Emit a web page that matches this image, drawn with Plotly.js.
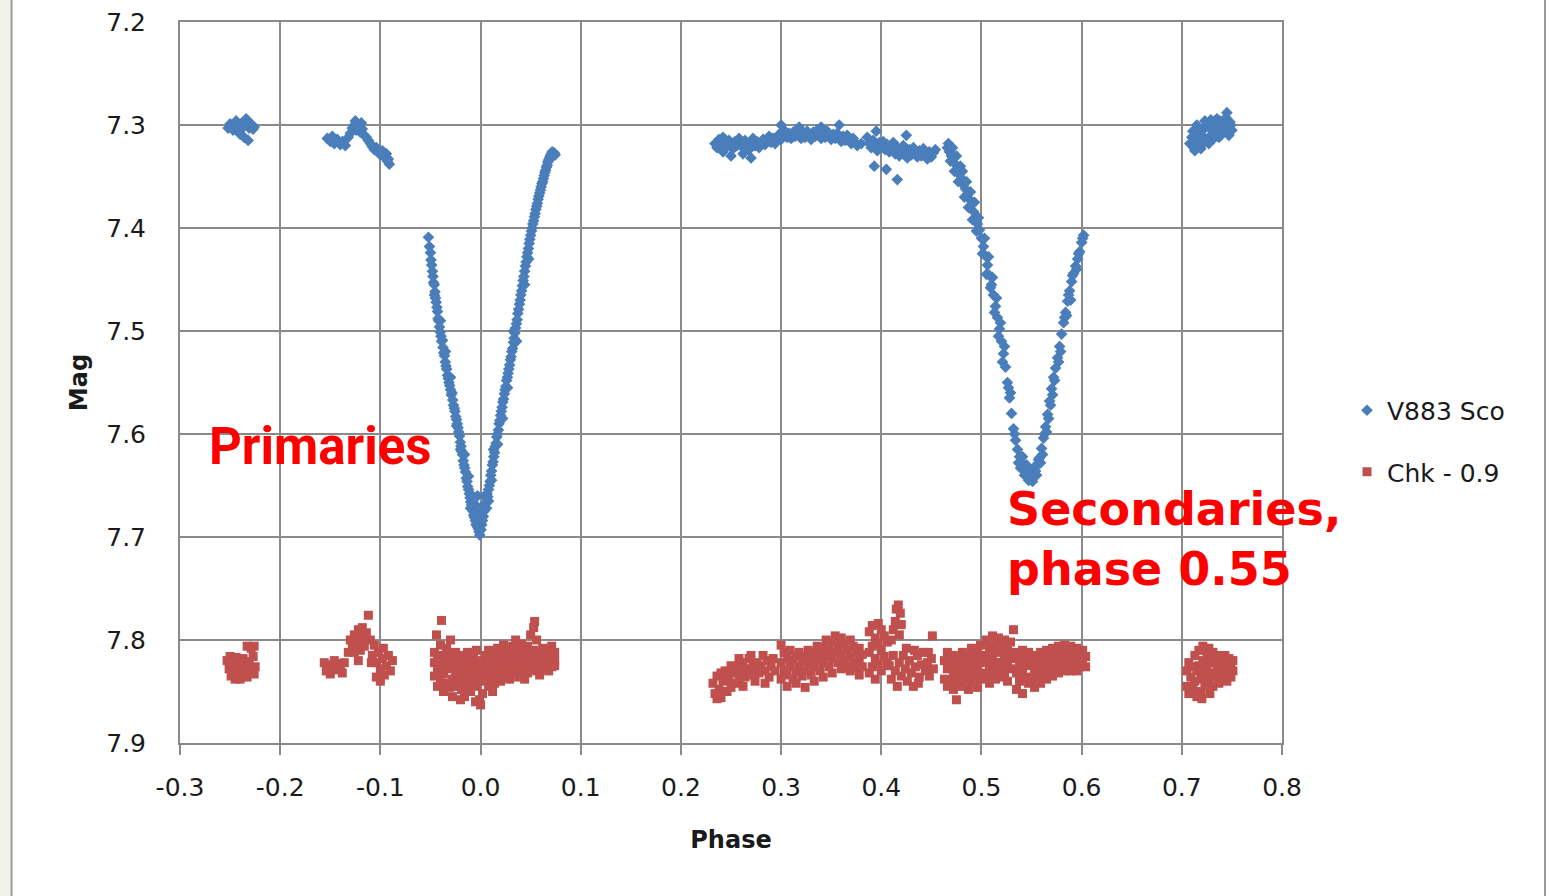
<!DOCTYPE html>
<html>
<head>
<meta charset="utf-8">
<script src="https://cdn.plot.ly/plotly-3.0.1.min.js"></script>
<style>
html,body{margin:0;padding:0;background:#fff;}
#chart{width:1549px;height:896px;}
</style>
</head>
<body>
<div id="chart"></div>
<script>
// ---- V883 Sco (phase, mag) ----
const v883PreA = [[-0.252,7.303],[-0.250,7.299],[-0.249,7.301],[-0.247,7.305],[-0.245,7.300],[-0.243,7.304],[-0.241,7.306],[-0.239,7.299],[-0.237,7.302],[-0.235,7.297],[-0.233,7.300],[-0.231,7.303],[-0.229,7.299],[-0.227,7.304],[-0.240,7.309],[-0.236,7.312],[-0.232,7.315],[-0.226,7.302],[-0.244,7.296],[-0.234,7.294]];
const v883PreB = [[-0.153,7.313],[-0.150,7.316],[-0.148,7.311],[-0.146,7.318],[-0.143,7.314],[-0.140,7.319],[-0.138,7.316],[-0.135,7.320],[-0.132,7.312],[-0.130,7.308],[-0.128,7.303],[-0.126,7.300],[-0.124,7.305],[-0.122,7.302],[-0.120,7.307],[-0.118,7.304],[-0.116,7.310],[-0.114,7.312],[-0.112,7.315],[-0.110,7.318],[-0.108,7.321],[-0.106,7.324],[-0.104,7.322],[-0.102,7.326],[-0.100,7.329],[-0.098,7.325],[-0.096,7.331],[-0.094,7.328],[-0.092,7.333],[-0.091,7.338],[-0.093,7.335],[-0.097,7.330],[-0.101,7.327],[-0.125,7.296],[-0.119,7.298]];
const v883Primary = [[-0.0520,7.409],[-0.0510,7.418],[-0.0500,7.424],[-0.0495,7.431],[-0.0488,7.436],[-0.0480,7.442],[-0.0475,7.447],[-0.0470,7.453],[-0.0462,7.455],[-0.0455,7.462],[-0.0450,7.468],[-0.0443,7.472],[-0.0436,7.477],[-0.0430,7.481],[-0.0424,7.488],[-0.0418,7.490],[-0.0410,7.496],[-0.0402,7.501],[-0.0395,7.505],[-0.0388,7.510],[-0.0380,7.509],[-0.0375,7.516],[-0.0368,7.521],[-0.0360,7.524],[-0.0352,7.530],[-0.0345,7.534],[-0.0338,7.537],[-0.0330,7.543],[-0.0322,7.546],[-0.0315,7.550],[-0.0308,7.553],[-0.0300,7.557],[-0.0292,7.562],[-0.0285,7.560],[-0.0278,7.567],[-0.0270,7.572],[-0.0262,7.575],[-0.0255,7.578],[-0.0248,7.583],[-0.0240,7.586],[-0.0232,7.590],[-0.0225,7.594],[-0.0218,7.598],[-0.0210,7.602],[-0.0202,7.608],[-0.0195,7.612],[-0.0188,7.617],[-0.0180,7.620],[-0.0172,7.626],[-0.0165,7.630],[-0.0158,7.633],[-0.0150,7.637],[-0.0142,7.643],[-0.0135,7.646],[-0.0128,7.651],[-0.0120,7.654],[-0.0112,7.658],[-0.0105,7.662],[-0.0098,7.666],[-0.0090,7.669],[-0.0082,7.672],[-0.0075,7.675],[-0.0068,7.679],[-0.0060,7.681],[-0.0052,7.684],[-0.0045,7.688],[-0.0038,7.686],[-0.0030,7.690],[-0.0022,7.692],[-0.0015,7.695],[-0.0008,7.698],
[-0.010,7.672],[-0.008,7.660],[-0.006,7.668],[-0.004,7.675],[-0.012,7.641],[-0.016,7.620],[-0.020,7.615],[-0.024,7.592],[-0.003,7.660],[-0.001,7.680],[-0.035,7.520],[-0.030,7.545],[-0.040,7.490],[-0.046,7.465],
[0.0005,7.693],[0.0012,7.688],[0.0020,7.684],[0.0028,7.680],[0.0035,7.675],[0.0042,7.671],[0.0050,7.668],[0.0058,7.662],[0.0065,7.658],[0.0072,7.661],[0.0080,7.654],[0.0088,7.650],[0.0095,7.646],[0.0102,7.640],[0.0110,7.636],[0.0118,7.630],[0.0125,7.627],[0.0132,7.622],[0.0140,7.618],[0.0148,7.612],[0.0155,7.609],[0.0162,7.603],[0.0170,7.600],[0.0178,7.596],[0.0185,7.590],[0.0192,7.587],[0.0200,7.582],[0.0208,7.578],[0.0215,7.574],[0.0222,7.569],[0.0230,7.566],[0.0238,7.561],[0.0245,7.557],[0.0252,7.554],[0.0260,7.548],[0.0268,7.545],[0.0275,7.541],[0.0282,7.537],[0.0290,7.533],[0.0298,7.528],[0.0305,7.525],[0.0312,7.520],[0.0320,7.517],[0.0328,7.511],[0.0335,7.507],[0.0342,7.502],[0.0350,7.497],[0.0358,7.493],[0.0365,7.489],[0.0372,7.483],[0.0380,7.479],[0.0388,7.474],[0.0395,7.470],[0.0402,7.465],[0.0410,7.461],[0.0418,7.456],[0.0425,7.451],[0.0432,7.447],[0.0440,7.442],[0.0448,7.437],[0.0455,7.433],[0.0462,7.428],[0.0470,7.424],[0.0478,7.420],[0.0485,7.415],[0.0492,7.411],[0.0500,7.407],[0.0508,7.403],[0.0515,7.400],[0.0522,7.396],[0.0530,7.393],[0.0538,7.389],[0.0545,7.386],[0.0552,7.382],[0.0560,7.379],[0.0568,7.376],[0.0575,7.372],[0.0582,7.369],[0.0590,7.366],[0.0598,7.363],[0.0605,7.360],[0.0612,7.357],[0.0620,7.355],[0.0628,7.352],[0.0635,7.349],[0.0642,7.346],[0.0650,7.344],[0.0658,7.341],[0.0665,7.339],[0.0672,7.336],[0.0680,7.334],[0.0688,7.332],[0.0695,7.330],[0.0705,7.328],[0.0715,7.326],[0.0725,7.330],[0.0735,7.327],[0.0745,7.329],
[0.002,7.670],[0.004,7.660],[0.006,7.672],[0.008,7.665],[0.011,7.645],[0.013,7.615],[0.017,7.610],[0.022,7.585],[0.027,7.555],[0.033,7.500],[0.036,7.510],[0.044,7.455],[0.048,7.430]];
const v883Out = [[0.234,7.318],[0.236,7.322],[0.238,7.314],[0.240,7.320],[0.242,7.326],[0.244,7.317],[0.246,7.321],[0.248,7.315],[0.250,7.319],[0.252,7.323],[0.254,7.316],[0.256,7.320],[0.258,7.313],[0.260,7.318],[0.262,7.322],[0.264,7.315],[0.266,7.319],[0.268,7.324],[0.270,7.317],[0.272,7.313],[0.274,7.320],[0.276,7.316],[0.278,7.322],[0.280,7.318],[0.282,7.314],[0.284,7.319],[0.286,7.315],[0.288,7.311],[0.290,7.317],[0.292,7.313],[0.294,7.318],[0.296,7.312],[0.298,7.309],[0.300,7.314],[0.302,7.310],[0.304,7.306],[0.306,7.312],[0.308,7.308],[0.310,7.313],[0.312,7.307],[0.314,7.311],[0.316,7.305],[0.318,7.309],[0.320,7.313],[0.322,7.308],[0.324,7.312],[0.326,7.306],[0.328,7.310],[0.330,7.314],[0.332,7.307],[0.334,7.311],[0.336,7.305],[0.338,7.309],[0.340,7.313],[0.342,7.308],[0.344,7.312],[0.346,7.306],[0.348,7.310],[0.350,7.314],[0.352,7.309],[0.354,7.313],[0.356,7.308],[0.358,7.312],[0.360,7.316],[0.362,7.311],[0.364,7.315],[0.366,7.310],[0.368,7.314],[0.370,7.318],[0.372,7.313],[0.374,7.317],[0.386,7.312],[0.388,7.318],[0.390,7.322],[0.392,7.315],[0.394,7.320],[0.396,7.325],[0.398,7.317],[0.400,7.322],[0.402,7.316],[0.404,7.324],[0.406,7.319],[0.408,7.326],[0.410,7.321],[0.412,7.317],[0.414,7.328],[0.416,7.322],[0.418,7.330],[0.420,7.325],[0.422,7.320],[0.424,7.327],[0.426,7.332],[0.428,7.324],[0.430,7.329],[0.432,7.322],[0.434,7.327],[0.436,7.331],[0.438,7.325],[0.440,7.330],[0.442,7.323],[0.444,7.328],[0.446,7.333],[0.448,7.326],[0.450,7.331],[0.452,7.327],[0.454,7.324],
[0.416,7.353],[0.405,7.343],[0.393,7.340],[0.425,7.310],[0.395,7.306],[0.300,7.300],[0.318,7.302],[0.340,7.302],[0.250,7.330],[0.262,7.328],[0.270,7.332],[0.242,7.312],[0.358,7.300],[0.376,7.320],[0.380,7.318]];
const v883Secondary = [[0.466,7.322],[0.468,7.326],[0.470,7.330],[0.472,7.333],[0.474,7.338],[0.476,7.343],[0.478,7.348],[0.480,7.352],[0.482,7.358],[0.484,7.362],[0.486,7.367],[0.488,7.372],[0.490,7.378],[0.492,7.384],[0.494,7.390],[0.496,7.396],[0.498,7.402],[0.500,7.410],[0.502,7.418],[0.504,7.427],[0.506,7.436],[0.508,7.446],[0.510,7.455],[0.512,7.465],[0.514,7.476],[0.516,7.487],[0.518,7.498],[0.520,7.510],[0.522,7.522],[0.524,7.535],[0.526,7.550],[0.528,7.565],[0.530,7.580],[0.532,7.595],[0.534,7.606],[0.536,7.615],[0.538,7.622],[0.540,7.628],[0.542,7.632],[0.544,7.636],[0.546,7.639],[0.548,7.641],[0.550,7.642],
[0.552,7.640],[0.554,7.636],[0.556,7.630],[0.558,7.623],[0.560,7.614],[0.562,7.604],[0.564,7.593],[0.566,7.581],[0.568,7.568],[0.570,7.556],[0.572,7.545],[0.574,7.536],[0.576,7.526],[0.578,7.515],[0.580,7.503],[0.582,7.492],[0.584,7.482],[0.586,7.471],[0.588,7.461],[0.590,7.452],[0.592,7.444],[0.594,7.437],[0.596,7.430],[0.598,7.423],[0.600,7.414],[0.602,7.407],
[0.467,7.318],[0.469,7.335],[0.471,7.322],[0.473,7.345],[0.475,7.330],[0.477,7.355],[0.479,7.340],[0.481,7.345],[0.483,7.370],[0.485,7.355],[0.487,7.380],[0.489,7.365],[0.491,7.392],[0.493,7.375],[0.495,7.403],[0.497,7.390],[0.501,7.425],[0.503,7.410],[0.505,7.445],[0.507,7.428],[0.509,7.458],[0.511,7.448],[0.513,7.482],[0.515,7.468],[0.517,7.505],[0.519,7.492],[0.521,7.530],[0.523,7.515],[0.527,7.555],[0.529,7.560],[0.533,7.600],[0.537,7.628],[0.539,7.633],[0.541,7.622],[0.543,7.640],[0.545,7.630],[0.547,7.645],[0.549,7.636],[0.551,7.646],[0.553,7.632],[0.555,7.640],[0.557,7.625],[0.559,7.628],[0.561,7.620],[0.563,7.600],[0.565,7.598],[0.567,7.585],[0.569,7.572],[0.571,7.562],[0.573,7.548],[0.577,7.530],[0.579,7.520],[0.583,7.487],[0.585,7.485],[0.587,7.465],[0.589,7.470],[0.591,7.446],[0.595,7.440],[0.597,7.425],[0.601,7.410]];
const v883PostF = [[0.708,7.318],[0.710,7.312],[0.712,7.322],[0.714,7.307],[0.716,7.315],[0.718,7.320],[0.720,7.310],[0.722,7.304],[0.724,7.316],[0.726,7.300],[0.728,7.311],[0.730,7.305],[0.732,7.298],[0.734,7.309],[0.736,7.302],[0.738,7.296],[0.740,7.306],[0.742,7.299],[0.744,7.293],[0.746,7.303],[0.748,7.297],[0.750,7.305],[0.711,7.306],[0.715,7.300],[0.719,7.323],[0.723,7.296],[0.727,7.318],[0.731,7.314],[0.735,7.294],[0.739,7.310],[0.743,7.306],[0.745,7.288],[0.747,7.310],[0.713,7.325],[0.721,7.317],[0.729,7.295],[0.737,7.312],[0.749,7.300]];

// ---- Check star minus 0.9 (phase, mag) ----
const chkA = [[-0.253,7.820],[-0.251,7.828],[-0.249,7.835],[-0.247,7.825],[-0.245,7.838],[-0.243,7.830],[-0.241,7.822],[-0.239,7.834],[-0.237,7.818],[-0.235,7.827],[-0.233,7.836],[-0.231,7.821],[-0.229,7.830],[-0.227,7.816],[-0.225,7.826],[-0.233,7.806],[-0.229,7.808],[-0.226,7.806],[-0.250,7.816],[-0.244,7.817],[-0.238,7.826],[-0.232,7.829],[-0.226,7.833],[-0.246,7.832],[-0.240,7.838]];
const chkB = [[-0.156,7.822],[-0.154,7.830],[-0.152,7.824],[-0.150,7.833],[-0.148,7.826],[-0.146,7.820],[-0.144,7.829],[-0.142,7.823],[-0.140,7.827],[-0.138,7.832],[-0.136,7.822],
[-0.132,7.812],[-0.130,7.800],[-0.128,7.808],[-0.126,7.795],[-0.124,7.803],[-0.122,7.790],[-0.120,7.810],[-0.118,7.798],[-0.116,7.806],[-0.114,7.793],[-0.112,7.776],[-0.110,7.800],[-0.108,7.815],[-0.106,7.805],[-0.104,7.822],[-0.102,7.812],[-0.100,7.828],[-0.098,7.818],[-0.096,7.834],[-0.094,7.825],[-0.092,7.815],[-0.090,7.830],[-0.088,7.820],[-0.122,7.820],[-0.104,7.836],[-0.100,7.840],[-0.109,7.822],[-0.097,7.808],[-0.126,7.812],[-0.118,7.788]];
const chkC = [[-0.046,7.822],[-0.046,7.835],[-0.046,7.812],[-0.043,7.830],[-0.043,7.845],[-0.043,7.818],[-0.040,7.805],[-0.040,7.826],[-0.040,7.840],[-0.037,7.815],[-0.037,7.833],[-0.037,7.850],[-0.034,7.822],[-0.034,7.808],[-0.034,7.842],[-0.031,7.828],[-0.031,7.846],[-0.031,7.816],[-0.028,7.820],[-0.028,7.838],[-0.028,7.855],[-0.025,7.812],[-0.025,7.830],[-0.025,7.845],[-0.022,7.825],[-0.022,7.840],[-0.022,7.818],[-0.019,7.832],[-0.019,7.848],[-0.019,7.815],[-0.016,7.820],[-0.016,7.838],[-0.016,7.855],[-0.013,7.828],[-0.013,7.843],[-0.013,7.812],[-0.010,7.835],[-0.010,7.850],[-0.010,7.822],[-0.007,7.818],[-0.007,7.840],[-0.007,7.830],[-0.004,7.826],[-0.004,7.845],[-0.004,7.810],[-0.001,7.833],[-0.001,7.858],[-0.001,7.820],[0.002,7.822],[0.002,7.840],[0.002,7.852],[0.005,7.815],[0.005,7.836],[0.005,7.828],[0.008,7.826],[0.008,7.845],[0.008,7.810],[0.011,7.820],[0.011,7.838],[0.011,7.832],[0.014,7.812],[0.014,7.830],[0.014,7.842],[0.017,7.822],[0.017,7.808],[0.017,7.836],[0.020,7.815],[0.020,7.828],[0.020,7.840],[0.023,7.805],[0.023,7.822],[0.023,7.835],[0.026,7.818],[0.026,7.830],[0.026,7.810],[0.029,7.812],[0.029,7.826],[0.029,7.838],[0.032,7.806],[0.032,7.820],[0.032,7.832],[0.035,7.815],[0.035,7.828],[0.035,7.800],[0.038,7.810],[0.038,7.824],[0.038,7.836],[0.041,7.818],[0.041,7.804],[0.041,7.830],[0.044,7.812],[0.044,7.826],[0.044,7.838],[0.047,7.806],[0.047,7.820],[0.047,7.832],[0.050,7.795],[0.050,7.815],[0.050,7.828],[0.053,7.788],[0.053,7.810],[0.053,7.824],[0.056,7.800],[0.056,7.818],[0.056,7.830],[0.059,7.812],[0.059,7.822],[0.059,7.834],[0.062,7.808],[0.062,7.820],[0.062,7.828],[0.065,7.814],[0.065,7.826],[0.065,7.818],[0.068,7.810],[0.068,7.822],[0.068,7.830],[0.071,7.816],[0.071,7.806],[0.071,7.826],[0.074,7.812],[0.074,7.820],[0.074,7.825],
[-0.039,7.781],[-0.044,7.795],[0.054,7.782],[-0.030,7.800],[-0.005,7.860],[0.000,7.863],[-0.020,7.858],[0.012,7.850]];
const chkD = [[0.232,7.842],[0.234,7.852],[0.236,7.835],[0.238,7.848],[0.240,7.856],[0.242,7.840],[0.244,7.830],[0.246,7.850],[0.248,7.838],[0.250,7.846],[0.252,7.832],[0.254,7.842],[0.256,7.826],[0.258,7.838],[0.260,7.830],[0.262,7.822],[0.264,7.836],[0.266,7.828],[0.268,7.818],[0.270,7.834],[0.272,7.826],[0.274,7.840],[0.276,7.822],[0.278,7.832],[0.280,7.825],[0.282,7.815],[0.284,7.830],[0.286,7.820],[0.288,7.836],[0.290,7.826],[0.292,7.818],[0.294,7.830],[0.250,7.825],[0.262,7.845],[0.258,7.818],[0.270,7.815],[0.284,7.842],[0.240,7.832],[0.236,7.857],[0.246,7.834]];
const chkE = [[0.300,7.805],[0.300,7.822],[0.300,7.838],[0.303,7.812],[0.303,7.830],[0.306,7.818],[0.306,7.834],[0.306,7.845],[0.309,7.810],[0.309,7.826],[0.312,7.820],[0.312,7.838],[0.315,7.815],[0.315,7.830],[0.315,7.842],[0.318,7.812],[0.318,7.826],[0.321,7.820],[0.321,7.835],[0.324,7.816],[0.324,7.830],[0.324,7.846],[0.327,7.810],[0.327,7.824],[0.330,7.818],[0.330,7.834],[0.333,7.812],[0.333,7.826],[0.333,7.840],[0.336,7.806],[0.336,7.820],[0.339,7.814],[0.339,7.830],[0.342,7.808],[0.342,7.822],[0.342,7.836],[0.345,7.800],[0.345,7.816],[0.348,7.810],[0.348,7.826],[0.351,7.802],[0.351,7.818],[0.351,7.832],[0.354,7.796],[0.354,7.812],[0.357,7.806],[0.357,7.822],[0.360,7.798],[0.360,7.814],[0.360,7.828],[0.363,7.804],[0.363,7.820],[0.366,7.810],[0.366,7.826],[0.369,7.800],[0.369,7.816],[0.369,7.830],[0.372,7.806],[0.372,7.822],[0.375,7.812],[0.375,7.826],[0.378,7.808],[0.378,7.820],[0.378,7.834],[0.381,7.814],[0.381,7.826]];
const chkF = [[0.388,7.792],[0.388,7.812],[0.388,7.832],[0.391,7.786],[0.391,7.806],[0.391,7.826],[0.394,7.798],[0.394,7.818],[0.394,7.838],[0.397,7.784],[0.397,7.804],[0.397,7.824],[0.400,7.790],[0.400,7.810],[0.400,7.830],[0.403,7.796],[0.403,7.816],[0.406,7.802],[0.406,7.822],
[0.410,7.800],[0.412,7.790],[0.414,7.782],[0.415,7.770],[0.417,7.766],[0.419,7.774],[0.420,7.785],[0.418,7.795],
[0.408,7.825],[0.410,7.838],[0.412,7.815],[0.414,7.830],[0.416,7.845],[0.418,7.822],[0.420,7.835],[0.422,7.815],[0.424,7.828],[0.426,7.840],[0.428,7.820],[0.430,7.832],[0.432,7.845],[0.434,7.826],[0.436,7.815],[0.438,7.836],[0.440,7.824],[0.442,7.812],[0.444,7.830],[0.446,7.822],[0.448,7.835],[0.450,7.818],[0.452,7.828],[0.451,7.796],[0.447,7.812],[0.425,7.808],[0.433,7.810],[0.437,7.842]];
const chkG = [[0.463,7.820],[0.463,7.838],[0.466,7.828],[0.466,7.845],[0.466,7.812],[0.469,7.822],[0.469,7.840],[0.472,7.815],[0.472,7.832],[0.472,7.848],[0.475,7.826],[0.475,7.842],[0.475,7.858],[0.478,7.818],[0.478,7.835],[0.481,7.812],[0.481,7.828],[0.481,7.845],[0.484,7.822],[0.484,7.838],[0.487,7.815],[0.487,7.830],[0.487,7.848],[0.490,7.808],[0.490,7.825],[0.490,7.840],[0.493,7.818],[0.493,7.834],[0.496,7.812],[0.496,7.828],[0.496,7.846],[0.499,7.805],[0.499,7.822],[0.499,7.838],[0.502,7.815],[0.502,7.832],[0.505,7.800],[0.505,7.818],[0.505,7.836],[0.508,7.808],[0.508,7.825],[0.508,7.842],[0.511,7.796],[0.511,7.815],[0.511,7.830],[0.514,7.805],[0.514,7.822],[0.514,7.838],[0.517,7.798],[0.517,7.812],[0.517,7.830],[0.520,7.806],[0.520,7.822],[0.520,7.836],[0.523,7.800],[0.523,7.816],[0.523,7.832],[0.526,7.808],[0.526,7.824],[0.526,7.840],[0.529,7.802],[0.529,7.818],[0.532,7.790],[0.532,7.812],[0.532,7.828]];
const chkH = [[0.535,7.815],[0.535,7.832],[0.535,7.848],[0.538,7.822],[0.538,7.840],[0.541,7.810],[0.541,7.828],[0.541,7.852],[0.544,7.818],[0.544,7.836],[0.547,7.825],[0.547,7.842],[0.547,7.812],[0.550,7.820],[0.550,7.838],[0.553,7.815],[0.553,7.830],[0.553,7.846],[0.556,7.822],[0.556,7.836],[0.559,7.812],[0.559,7.828],[0.559,7.842],[0.562,7.818],[0.562,7.832],[0.565,7.810],[0.565,7.825],[0.565,7.838],[0.568,7.815],[0.568,7.830],[0.571,7.808],[0.571,7.822],[0.571,7.835],[0.574,7.814],[0.574,7.828],[0.577,7.806],[0.577,7.820],[0.577,7.832],[0.580,7.812],[0.580,7.826],[0.583,7.805],[0.583,7.818],[0.583,7.830],[0.586,7.810],[0.586,7.824],[0.589,7.806],[0.589,7.818],[0.589,7.830],[0.592,7.812],[0.592,7.824],[0.595,7.808],[0.595,7.820],[0.595,7.830],[0.598,7.814],[0.598,7.826],[0.601,7.810],[0.601,7.822],[0.604,7.816],[0.604,7.826]];
const chkI = [[0.705,7.830],[0.705,7.845],[0.707,7.822],[0.707,7.852],[0.709,7.836],[0.711,7.826],[0.711,7.848],[0.713,7.815],[0.713,7.840],[0.715,7.830],[0.715,7.855],[0.717,7.810],[0.717,7.825],[0.719,7.838],[0.719,7.850],[0.721,7.806],[0.721,7.820],[0.723,7.832],[0.723,7.845],[0.725,7.812],[0.725,7.826],[0.727,7.808],[0.727,7.840],[0.729,7.818],[0.729,7.832],[0.731,7.812],[0.731,7.845],[0.733,7.822],[0.733,7.836],[0.735,7.815],[0.735,7.830],[0.737,7.825],[0.737,7.842],[0.739,7.818],[0.739,7.832],[0.741,7.822],[0.741,7.838],[0.743,7.815],[0.743,7.828],[0.745,7.822],[0.745,7.840],[0.747,7.818],[0.747,7.830],[0.749,7.824],[0.749,7.836],[0.751,7.820],[0.751,7.830],[0.720,7.857],[0.728,7.852]];

const seriesNames = ["V883 Sco", "Chk - 0.9"];
const xTickVals = [-0.3,-0.2,-0.1,0.0,0.1,0.2,0.3,0.4,0.5,0.6,0.7,0.8];
const xTickText = ["-0.3","-0.2","-0.1","0.0","0.1","0.2","0.3","0.4","0.5","0.6","0.7","0.8"];
const yTickVals = [7.2,7.3,7.4,7.5,7.6,7.7,7.8,7.9];
const yTickText = ["7.2","7.3","7.4","7.5","7.6","7.7","7.8","7.9"];

const v883 = [].concat(v883PreA, v883PreB, v883Primary, v883Out, v883Secondary, v883PostF);
const chk = [].concat(chkA, chkB, chkC, chkD, chkE, chkF, chkG, chkH, chkI);

const grid = '#8a8a8a';
const traces = [
  {type:'scatter', mode:'markers', name:seriesNames[0], legendgroup:'a',
   x:v883.map(p=>p[0]), y:v883.map(p=>p[1]),
   marker:{symbol:'diamond', size:9, color:'#4a7ebb'}},
  {type:'scatter', mode:'markers', name:seriesNames[1], legendgroup:'b',
   x:chk.map(p=>p[0]), y:chk.map(p=>p[1]),
   marker:{symbol:'square', size:9, color:'#c0504d'}}
];

const px = v => (v-180)/1102;   // container px -> paper x
const py = v => 1-(v-22)/721;   // container px -> paper y

const layout = {
  width:1549, height:896,
  margin:{l:180, r:267, t:22, b:153, pad:0},
  paper_bgcolor:'#ffffff', plot_bgcolor:'#ffffff',
  showlegend:true,
  font:{family:'DejaVu Sans', size:26, color:'#1a1a1a'},
  xaxis:{range:[-0.3,0.8], tickvals:xTickVals, ticktext:xTickText,
    showgrid:true, gridcolor:grid, gridwidth:2,
    showline:true, linecolor:grid, linewidth:2, mirror:true,
    ticks:'outside', ticklen:10, tickwidth:2, tickcolor:grid, ticklabelstandoff:11,
    zeroline:false, tickfont:{family:'DejaVu Sans', size:25, color:'#1a1a1a'},
    title:{text:'Phase', standoff:30, font:{family:'DejaVu Sans', size:24, weight:'bold', color:'#1a1a1a'}}},
  yaxis:{range:[7.9,7.2], tickvals:yTickVals, ticktext:yTickText,
    showgrid:true, gridcolor:grid, gridwidth:2,
    showline:true, linecolor:grid, linewidth:2, mirror:true,
    ticks:'', ticklabelstandoff:27, zeroline:false,
    tickfont:{family:'DejaVu Sans', size:25, color:'#1a1a1a'},
    title:{text:'Mag', standoff:12, font:{family:'DejaVu Sans', size:24, weight:'bold', color:'#1a1a1a'}}},
  legend:{x:px(1347), y:py(441), xanchor:'left', yanchor:'middle',
    traceorder:'grouped', tracegroupgap:26, bgcolor:'rgba(0,0,0,0)',
    font:{family:'DejaVu Sans', size:25, color:'#1a1a1a'}},
  annotations:[
    {x:-0.273, y:7.612, xref:'x', yref:'y', xanchor:'left', yanchor:'middle', showarrow:false,
     text:'Primaries', font:{family:'Roboto', size:51, weight:'bold', color:'#ff0000'}},
    {x:0.5234, y:7.702, xref:'x', yref:'y', xanchor:'left', yanchor:'middle', align:'left', showarrow:false,
     text:'Secondaries,<br>phase 0.55', font:{family:'DejaVu Sans', size:46, weight:'bold', color:'#ff0000'}}
  ],
  shapes:[
    {type:'rect', xref:'paper', yref:'paper', x0:px(0), x1:px(10), y0:py(896), y1:py(0), fillcolor:'#f3f2ea', line:{width:0}, layer:'below'},
    {type:'line', xref:'paper', yref:'paper', x0:px(11.5), x1:px(11.5), y0:py(896), y1:py(0), line:{color:'#9a9a9a', width:2}},
    {type:'line', xref:'paper', yref:'paper', x0:px(1545), x1:px(1545), y0:py(896), y1:py(0), line:{color:'#9a9a9a', width:2}}
  ]
};

Plotly.newPlot('chart', traces, layout, {displayModeBar:false, staticPlot:true});
</script>
</body>
</html>
